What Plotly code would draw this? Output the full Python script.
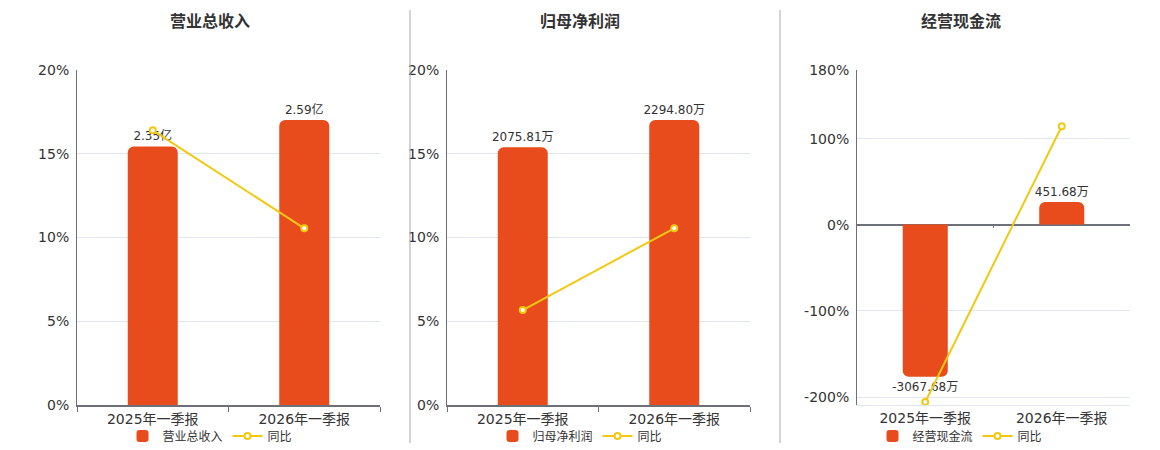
import plotly.graph_objects as go

# categories shared by all three panels
periods = ["2025年一季报", "2026年一季报"]

# panel titles
titles = ["营业总收入", "归母净利润", "经营现金流"]

# bar values and their labels
revenue = [2.35, 2.59]              # 亿
revenue_text = ["2.35亿", "2.59亿"]
profit = [2075.81, 2294.80]         # 万
profit_text = ["2075.81万", "2294.80万"]
cashflow = [-3067.68, 451.68]       # 万
cashflow_text = ["-3067.68万", "451.68万"]

# year-on-year growth, %
revenue_yoy = [16.4, 10.55]
profit_yoy = [5.67, 10.55]
cashflow_yoy = [-205.8, 114.7]

# tick labels of the percentage axes
pct_ticks_12 = [0, 5, 10, 15, 20]
pct_ticks_3 = [-200, -100, 0, 100, 180]

BAR = "#e84c1d"
LINE = "#f2c811"
AXIS = "#6e7079"
GRID = "#e0e6f1"
TEXT = "#333333"
FONT = "DejaVu Sans, Noto Sans CJK SC, sans-serif"

W, H = 1160, 450

panels = [
    dict(name=titles[0], bars=revenue, text=revenue_text, yoy=revenue_yoy,
         xdom=[77, 380], bar_range=[0, 3.045], pct_range=[0, 20], ticks=pct_ticks_12,
         title_x=210, legend_x=210),
    dict(name=titles[1], bars=profit, text=profit_text, yoy=profit_yoy,
         xdom=[447, 750], bar_range=[0, 2697], pct_range=[0, 20], ticks=pct_ticks_12,
         title_x=580, legend_x=580),
    dict(name=titles[2], bars=cashflow, text=cashflow_text, yoy=cashflow_yoy,
         xdom=[857, 1130], bar_range=[-3636, 3111], pct_range=[-209.3, 180.01], ticks=pct_ticks_3,
         title_x=961, legend_x=960),
]

fig = go.Figure()
ydom = [(H - 405) / H, (H - 70) / H]
layout = {}
annotations = []
shapes = []

for i, p in enumerate(panels):
    n = i + 1
    xid = "x" if n == 1 else f"x{n}"
    yb = 2 * n - 1
    yl = 2 * n
    ybid = "y" if yb == 1 else f"y{yb}"
    ylid = f"y{yl}"
    leg = "legend" if n == 1 else f"legend{n}"
    negative_axis = p["pct_range"][0] < 0

    fig.add_trace(go.Bar(
        x=periods, y=p["bars"], name=p["name"], text=p["text"],
        textposition="outside", cliponaxis=False, constraintext="none",
        textfont=dict(size=12, color=TEXT),
        marker=dict(color=BAR, cornerradius=6, line_width=0),
        width=0.33, xaxis=xid, yaxis=ybid, legend=leg,
    ))
    fig.add_trace(go.Scatter(
        x=periods, y=p["yoy"], name="同比", mode="lines+markers",
        line=dict(color=LINE, width=2),
        marker=dict(symbol="circle", size=6, color="white", line=dict(color=LINE, width=2)),
        cliponaxis=False, xaxis=xid, yaxis=ylid, legend=leg,
    ))

    xkey = "xaxis" if n == 1 else f"xaxis{n}"
    layout[xkey] = dict(
        domain=[p["xdom"][0] / W, p["xdom"][1] / W], anchor=ybid,
        type="category", tickson="boundaries", ticks="" if negative_axis else "outside",
        ticklen=5, tickcolor=AXIS, showline=True,
        linecolor=GRID if negative_axis else AXIS, linewidth=1 if negative_axis else 2,
        tickfont=dict(size=14, color=TEXT), showgrid=False, fixedrange=True,
        automargin=False,
    )
    layout["yaxis" if yb == 1 else f"yaxis{yb}"] = dict(
        domain=ydom, anchor=xid, range=p["bar_range"], visible=False, fixedrange=True,
    )
    layout[f"yaxis{yl}"] = dict(
        domain=ydom, anchor=xid, overlaying=ybid, side="left",
        range=p["pct_range"], tickmode="array", tickvals=p["ticks"],
        ticktext=[f"{v}%" for v in p["ticks"]],
        showgrid=True, gridcolor=GRID, showline=True, linecolor=AXIS, linewidth=1,
        zeroline=negative_axis, zerolinecolor=AXIS, zerolinewidth=2,
        tickfont=dict(size=14, color=TEXT), ticklabelstandoff=4, fixedrange=True,
        automargin=False,
    )
    layout[leg] = dict(
        orientation="h", x=p["legend_x"] / W, xanchor="center", y=(H - 436) / H,
        yanchor="middle", font=dict(size=12, color=TEXT), bgcolor="rgba(0,0,0,0)",
        itemwidth=30, tracegroupgap=0,
    )
    annotations.append(dict(
        text=f"<b>{p['name']}</b>", x=p["title_x"] / W, y=(H - 22) / H,
        xref="paper", yref="paper", showarrow=False,
        xanchor="center", yanchor="middle",
        font=dict(size=16, color=TEXT),
    ))
    if negative_axis:
        # tick mark on the zero line between the categories
        shapes.append(dict(
            type="line", xref=xid, yref=ylid, x0=0.5, x1=0.5,
            ysizemode="pixel", yanchor=0, y0=0, y1=-3,
            line=dict(color=AXIS, width=1),
        ))

# vertical separators between panels
for sx in [410, 780]:
    shapes.append(dict(
        type="line", xref="paper", yref="paper", x0=sx / W, x1=sx / W,
        y0=(H - 443) / H, y1=(H - 10) / H, line=dict(color="#aaaaaa", width=1),
    ))

fig.update_layout(
    width=W, height=H, margin=dict(l=0, r=0, t=0, b=0, autoexpand=False),
    paper_bgcolor="white", plot_bgcolor="white",
    font=dict(family=FONT, color=TEXT), barmode="group",
    annotations=annotations, shapes=shapes, showlegend=True,
    **layout,
)

fig.write_html("out.html", config={"displayModeBar": False},
               post_script="document.body.style.margin='0';")
